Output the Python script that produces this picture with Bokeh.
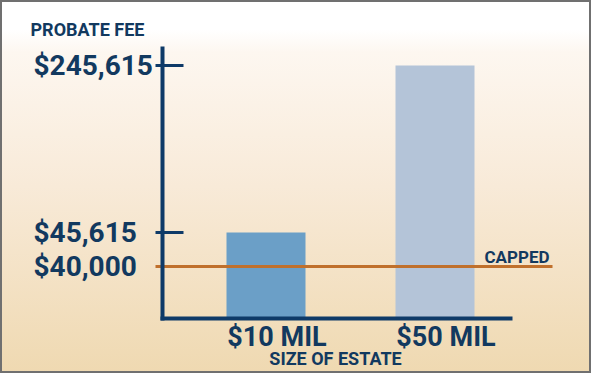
import numpy as np
from bokeh.plotting import figure
from bokeh.models import Range1d, FixedTicker, Label, Arrow, ColumnDataSource
from bokeh.embed import file_html
from bokeh.resources import INLINE

# ---- data ----
estate_sizes = ["$10 MIL", "$50 MIL"]
probate_fees = [45615, 245615]
fee_cap = 40000
title_text = "PROBATE FEE"
x_title = "SIZE OF ESTATE"
cap_text = "CAPPED"

# ---- style ----
NAVY = "#12395f"
AXIS = "#0e3a68"
ORANGE = "#c0702c"
BAR_COLORS = ["#6b9fc7", "#b4c4d8"]
FONT = "Roboto"

# the original chart is drawn "not to scale": a broken (piecewise linear) value axis
SCALE_VALUES = [0, fee_cap, probate_fees[0], probate_fees[1]]
SCALE_HEIGHTS = [0, 52, 86, 253]
AXIS_TOP = 270


def to_axis(v):
    return np.interp(np.asarray(v, dtype=float), SCALE_VALUES, SCALE_HEIGHTS)


def money(v):
    return "${:,}".format(v)


W, H = 591, 373
unit_px = 169.0          # pixels per category step
bar0_px = 265.5          # screen x of the first category
base_px = 318.0          # screen y of the value axis origin
x_start = -bar0_px / unit_px
x_end = x_start + W / unit_px
axis_x = (162 - bar0_px) / unit_px
line_end = (552 - bar0_px) / unit_px
xaxis_end = (510 - bar0_px) / unit_px

p = figure(width=W, height=H, output_backend="svg", toolbar_location=None,
           x_range=Range1d(x_start, x_end),
           y_range=Range1d(-(H - base_px), base_px),
           min_border=0)
p.border_fill_alpha = 0
p.background_fill_alpha = 0
p.outline_line_color = None
p.grid.visible = False
p.styles = {
    "background": "linear-gradient(to bottom, #ffffff 0%, #ffffff 8%, #fdf7f0 14%, "
                  "#f8ead8 50%, #efd9b1 100%)",
    "outline": "2px solid #707070",
    "outline-offset": "-2px",
}

xs = list(range(len(estate_sizes)))
src = ColumnDataSource(dict(x=xs, top=to_axis(probate_fees), color=BAR_COLORS))
p.vbar(x="x", top="top", bottom=0, width=79 / unit_px, fill_color="color",
       line_color=None, source=src)

# capped line
cap_y = float(to_axis(fee_cap))
p.add_layout(Arrow(end=None, x_start=axis_x - 7 / unit_px, y_start=cap_y,
                   x_end=line_end, y_end=cap_y, line_color=ORANGE, line_width=3,
                   level="glyph"))

# axes, drawn at fixed locations inside the frame
yax = p.yaxis[0]
yax.fixed_location = axis_x
yax.bounds = (0, AXIS_TOP)
yax.ticker = FixedTicker(ticks=list(to_axis(probate_fees)))
yax.major_label_overrides = {float(t): "" for t in to_axis(probate_fees)}
yax.major_tick_out = 7
yax.major_tick_in = 21
yax.major_tick_line_width = 3
yax.major_tick_line_color = AXIS
yax.minor_tick_line_color = None
yax.axis_line_width = 4
yax.axis_line_color = AXIS
yax.axis_line_cap = "square"

xax = p.xaxis[0]
xax.fixed_location = 0
xax.bounds = (axis_x, xaxis_end)
xax.ticker = FixedTicker(ticks=[])
xax.major_tick_line_color = None
xax.minor_tick_line_color = None
xax.axis_line_width = 4
xax.axis_line_color = AXIS
xax.axis_line_cap = "square"


def lab(text, x, y, xo, yo, size, align="left"):
    p.add_layout(Label(x=x, y=y, x_offset=xo, y_offset=yo, text=text,
                       text_font=FONT, text_font_style="bold",
                       text_font_size=size, text_color=NAVY,
                       text_align=align, text_baseline="middle"))


# value labels (left aligned, as in the original)
for v in probate_fees + [fee_cap]:
    lab(money(v), axis_x, float(to_axis(v)), -129, 0, "28px", "left")

lab(title_text, axis_x, AXIS_TOP, -132, 19.5, "18px")
lab(cap_text, line_end, cap_y, -3, 10, "17px", "right")
for xi, name in zip(xs, estate_sizes):
    lab(name, xi, 0, 11, -18.5, "27px", "center")
lab(x_title, float(np.mean(xs)), 0, -15, -40, "18px", "center")

open("out.html", "w").write(file_html(p, INLINE))
